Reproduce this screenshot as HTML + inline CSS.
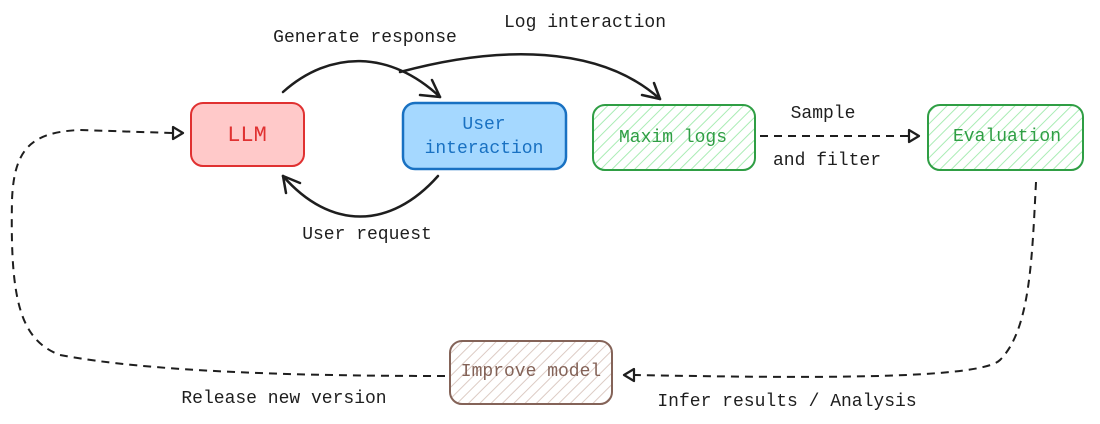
<!DOCTYPE html>
<html><head><meta charset="utf-8"><style>
html,body{margin:0;padding:0;background:#fff;}
svg{display:block}
text{font-family:"Liberation Mono","DejaVu Sans Mono",monospace;font-size:18px;fill:#1e1e1e}
</style></head><body>
<svg width="1100" height="424" viewBox="0 0 1100 424" xmlns="http://www.w3.org/2000/svg">
<defs>
<pattern id="hg" patternUnits="userSpaceOnUse" width="8" height="8" patternTransform="rotate(45)">
<rect width="8" height="8" fill="#fff"/><line x1="0" y1="0" x2="0" y2="8" stroke="#a9ecb4" stroke-width="2"/></pattern>
<pattern id="hb" patternUnits="userSpaceOnUse" width="8" height="8" patternTransform="rotate(45)">
<rect width="8" height="8" fill="#fff"/><line x1="0" y1="0" x2="0" y2="8" stroke="#dccbc4" stroke-width="2"/></pattern>
</defs>
<rect x="191" y="103" width="113" height="63" rx="12" fill="#ffc9c9" stroke="#e03131" stroke-width="2"/>
<rect x="403" y="103" width="163" height="66" rx="12" fill="#a5d8ff" stroke="#1971c2" stroke-width="2.5"/>
<rect x="593" y="105" width="162" height="65" rx="12" fill="url(#hg)" stroke="#2f9e44" stroke-width="2"/>
<rect x="928" y="105" width="155" height="65" rx="12" fill="url(#hg)" stroke="#2f9e44" stroke-width="2"/>
<rect x="450" y="341" width="162" height="63" rx="12" fill="url(#hb)" stroke="#846358" stroke-width="2"/>
<text x="247" y="141" text-anchor="middle" style="fill:#e03131;font-size:22px">LLM</text>
<text x="484" y="129" text-anchor="middle" style="fill:#1971c2">User</text>
<text x="484" y="153" text-anchor="middle" style="fill:#1971c2">interaction</text>
<text x="673" y="142" text-anchor="middle" style="fill:#2f9e44">Maxim logs</text>
<text x="1007" y="141" text-anchor="middle" style="fill:#2f9e44">Evaluation</text>
<text x="531" y="376" text-anchor="middle" style="fill:#846358">Improve model</text>
<g fill="none" stroke="#1e1e1e" stroke-width="2.5" stroke-linecap="round">
<path d="M283 92 C 330 50, 390 50, 440 97"/>
<path d="M440 97 L432 80 M440 97 L420 95"/>
<path d="M400 72 C 500 45, 600 45, 660 99"/>
<path d="M660 99 L654 83 M660 99 L642 95"/>
<path d="M438 176 C 390 230, 330 230, 283 176"/>
<path d="M283 176 L286 193 M283 176 L300 183"/>
</g>
<g fill="none" stroke="#1e1e1e" stroke-width="2" stroke-dasharray="8 6">
<path d="M760 136 L912 136"/>
<path d="M1036 182 C 1032 260, 1030 330, 1000 360 C 980 380, 800 378, 633 375"/>
<path d="M445 376 C 300 376, 150 372, 60 355 C 20 340, 10 300, 12 200 C 14 150, 30 132, 80 130 L172 133"/>
</g>
<g fill="none" stroke="#1e1e1e" stroke-width="2.2" stroke-linejoin="round">
<path d="M909 130 L919 136 L909 142 Z"/>
<path d="M634 369 L624 375 L634 381 Z"/>
<path d="M173 127 L183 133 L173 139 Z"/>
</g>
<text x="365" y="42" text-anchor="middle">Generate response</text>
<text x="585" y="27" text-anchor="middle">Log interaction</text>
<text x="367" y="239" text-anchor="middle">User request</text>
<text x="823" y="118" text-anchor="middle">Sample</text>
<text x="827" y="165" text-anchor="middle">and filter</text>
<text x="284" y="403" text-anchor="middle">Release new version</text>
<text x="787" y="406" text-anchor="middle">Infer results / Analysis</text>
</svg>
</body></html>
